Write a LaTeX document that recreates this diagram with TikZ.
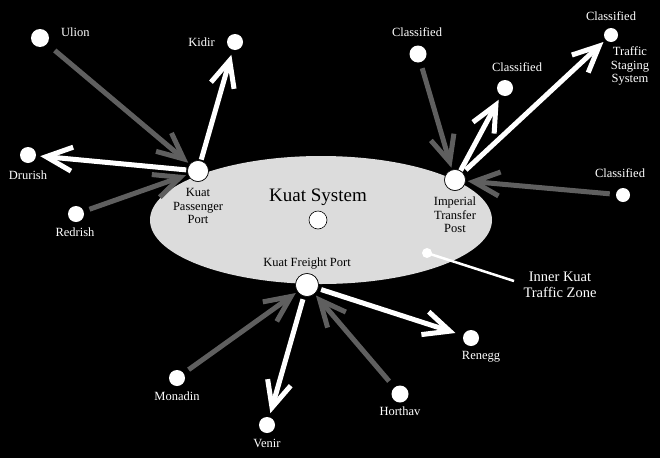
\documentclass[tikz,border=0pt]{standalone}
\usepackage{fontspec}
\setmainfont{Liberation Serif}
\usetikzlibrary{arrows.meta}
\definecolor{zone}{RGB}{220,220,220}
\definecolor{inarrow}{RGB}{95,95,95}
\tikzset{
  x=1pt,y=-1pt,
  dot/.style={circle,fill=white,draw=black,line width=0.6pt,inner sep=0pt,minimum size=#1},
  dot/.default=16pt,
  lbl/.style={text=white,font=\fontsize{12.5}{13.5}\selectfont,inner sep=0pt,align=center},
  dlbl/.style={text=black,font=\fontsize{12.5}{13.5}\selectfont,inner sep=0pt,align=center},
  inflow/.style={draw=inarrow,line width=5pt,-{Straight Barb[length=26pt,width=24pt]}},
  outflow/.style={draw=white,line width=5pt,-{Straight Barb[length=26pt,width=24pt]}},
}
\begin{document}
\begin{tikzpicture}
\fill[black] (0,0) rectangle (660,458);
\useasboundingbox (0,0) rectangle (660,458);
% zone
\fill[zone] (321,220) ellipse [x radius=171, y radius=64];
% hub nodes
\node[dot=21pt] (kpp) at (198,171) {};
\node[dot=21pt] (itp) at (455,180) {};
\node[dot=23pt] (kfp) at (307,285) {};
\node[dot=18pt] (ks) at (318,220) {};
\node[dlbl] (kppl) at (198,206) {Kuat\\Passenger\\Port};
\node[dlbl] (itpl) at (455,215) {Imperial\\Transfer\\Post};
\node[dlbl] (kfpl) at (307,264) {Kuat Freight Port};
\node[dlbl,font=\fontsize{19}{21}\selectfont] (ksl) at (318,197) {Kuat System};
% outer nodes
\node[dot=18pt,draw=none] (ulion) at (40,38) {};
\node[lbl,anchor=west] (ulionl) at (61,32) {Ulion};
\node[dot=16pt,draw=none] (kidir) at (235,42) {};
\node[lbl,anchor=east] (kidirl) at (215,42) {Kidir};
\node[dot=16pt,draw=none] (drurish) at (28,155) {};
\node[lbl] (drurishl) at (28,175) {Drurish};
\node[dot=16pt,draw=none] (redrish) at (76,214) {};
\node[lbl] (redrishl) at (75,232) {Redrish};
\node[dot=17pt,draw=none] (c1) at (418,54) {};
\node[lbl] (c1l) at (417,32) {Classified};
\node[dot=16pt,draw=none] (c2) at (505,88) {};
\node[lbl] (c2l) at (517,67) {Classified};
\node[dot=14pt,draw=none] (c3) at (611,35) {};
\node[lbl] (c3l) at (611,16) {Classified};
\node[lbl] (tss) at (630,66) {Traffic\\Staging\\System};
\node[dot=14pt,draw=none] (c4) at (623,195) {};
\node[lbl] (c4l) at (620,173) {Classified};
\node[dot=16pt,draw=none] (monadin) at (177,378) {};
\node[lbl] (monadinl) at (177,396) {Monadin};
\node[dot=16pt,draw=none] (venir) at (267,425) {};
\node[lbl] (venirl) at (267,443) {Venir};
\node[dot=17pt,draw=none] (horthav) at (400,394) {};
\node[lbl] (horthavl) at (400,411) {Horthav};
\node[dot=16pt,draw=none] (renegg) at (471,338) {};
\node[lbl] (reneggl) at (481,357) {Renegg};
% inner zone marker
\node[dot=10pt,draw=none] (izd) at (427,253) {};
\coordinate (izend) at (514,281);
\draw[white,line width=2.5pt] (izd.center) -- (izend);
\node[lbl,font=\fontsize{14.5}{15.5}\selectfont] (izl) at (560,285) {Inner Kuat\\Traffic Zone};
% arrows
\draw[inflow,shorten <=10pt,shorten >=2pt] (ulion) -- (kpp);
\draw[inflow,shorten <=6pt,shorten >=2pt] (redrish) -- (kpp);
\draw[outflow,shorten <=1pt,shorten >=4pt] (kpp) -- (drurish);
\draw[outflow,shorten <=1pt,shorten >=5pt] (kpp) -- (kidir);
\draw[inflow,shorten <=6pt,shorten >=2pt] (c1) -- (itp);
\draw[inflow,shorten <=6pt,shorten >=2pt] (c4) -- (itp);
\draw[outflow,shorten <=2pt,shorten >=5pt] ([xshift=-3pt]itp.north east) -- (c2);
\draw[outflow,shorten <=4pt,shorten >=3pt] (itp) -- (c3);
\draw[inflow,shorten <=6pt,shorten >=2pt] (monadin) -- (kfp);
\draw[inflow,shorten <=8pt,shorten >=2pt] (horthav) -- (kfp);
\draw[outflow,shorten <=3pt,shorten >=4pt] (kfp) -- (venir);
\draw[outflow,shorten <=3pt,shorten >=8pt] (kfp) -- (renegg);
% redraw hub dots on top
\node[dot=21pt] at (kpp) {};
\node[dot=21pt] at (itp) {};
\node[dot=23pt] at (kfp) {};
\end{tikzpicture}
\end{document}
